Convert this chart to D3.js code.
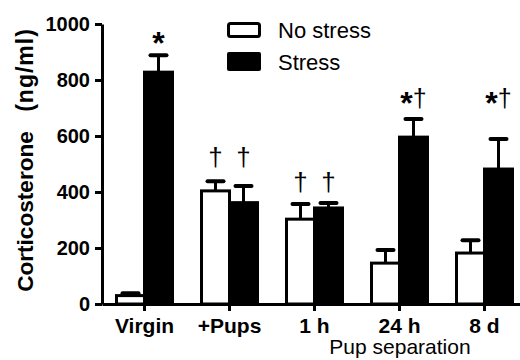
<!DOCTYPE html>
<html>
<head>
<meta charset="utf-8">
<script src="https://cdn.jsdelivr.net/npm/d3@7"></script>
<style>
  html, body { margin: 0; padding: 0; background: #fff; }
  svg { display: block; }
  text { font-family: "Liberation Sans", Arial, Helvetica, sans-serif; fill: #000; }
</style>
</head>
<body>
<svg id="chart" width="520" height="360"></svg>
<script>
// Plasma corticosterone by group, mean ± SEM
const categories = ["Virgin", "+Pups", "1 h", "24 h", "8 d"];
const seriesNames = ["No stress", "Stress"];
const noStress    = [30, 404, 303, 146, 182];
const noStressErr = [8, 34, 54, 47, 46];
const stress      = [828, 362, 343, 596, 482];
const stressErr   = [60, 59, 18, 65, 107];
const yTicks = [0, 200, 400, 600, 800, 1000];

// Significance marks per group: [no stress, stress], and the level they sit at
const noteText  = [["", "*"], ["\u2020", "\u2020"], ["\u2020", "\u2020"], ["", "*\u2020"], ["", "*\u2020"]];
const noteLevel = [893, 493, 405, 703, 703];

const svg = d3.select("#chart");

const y = d3.scaleLinear().domain([0, 1000]).range([304, 24]);
const x = d3.scaleBand().domain(categories).range([102, 527]);
const xs = d3.scaleBand().domain([0, 1]).range([-28, 28]);
const cx = c => x(c) + x.bandwidth() / 2;

const rows = categories.map((c, i) => ({
  cat: c,
  bars: [
    { s: 0, v: noStress[i], e: noStressErr[i], note: noteText[i][0] },
    { s: 1, v: stress[i], e: stressErr[i], note: noteText[i][1] }
  ]
}));

// Bars
const g = svg.append("g");
rows.forEach(r => {
  r.bars.forEach(b => {
    const bx = cx(r.cat) + xs(b.s);
    g.append("rect")
      .attr("x", bx)
      .attr("y", y(b.v))
      .attr("width", xs.bandwidth())
      .attr("height", y(0) - y(b.v))
      .attr("fill", b.s === 0 ? "#fff" : "#000")
      .attr("stroke", "#000")
      .attr("stroke-width", 3);
  });
});

// Error bars (upper whisker only)
rows.forEach(r => {
  r.bars.forEach(b => {
    const mx = cx(r.cat) + xs(b.s) + xs.bandwidth() / 2;
    g.append("line")
      .attr("x1", mx).attr("x2", mx)
      .attr("y1", y(b.v)).attr("y2", y(b.v + b.e))
      .attr("stroke", "#000").attr("stroke-width", 3);
    g.append("line")
      .attr("x1", mx - 8).attr("x2", mx + 8)
      .attr("y1", y(b.v + b.e)).attr("y2", y(b.v + b.e))
      .attr("stroke", "#000").attr("stroke-width", 4)
      .attr("stroke-linecap", "round");
  });
});

// Significance marks
rows.forEach((r, i) => {
  r.bars.forEach(b => {
    if (!b.note) return;
    const mx = cx(r.cat) + xs(b.s) + xs.bandwidth() / 2;
    const t = g.append("text")
      .attr("x", mx)
      .attr("y", y(noteLevel[i]))
      .attr("text-anchor", "middle");
    if (b.note === "*") {
      t.append("tspan").attr("font-size", 32).attr("font-weight", "bold").text("*");
    } else if (b.note === "\u2020") {
      t.append("tspan").attr("font-size", 26).text("\u2020");
    } else {
      t.append("tspan").attr("font-size", 32).attr("font-weight", "bold")
        .attr("dy", "0.22em").text("*");
      t.append("tspan").attr("font-size", 25).attr("dy", "-0.28em").text("\u2020");
    }
  });
});

// Y axis
const yAxis = svg.append("g")
  .attr("transform", "translate(102,0)")
  .call(d3.axisLeft(y).tickValues(yTicks).tickFormat(d3.format("d"))
    .tickSize(7).tickSizeOuter(0).tickPadding(5));
yAxis.select(".domain").attr("stroke-width", 3);
yAxis.selectAll(".tick line").attr("stroke-width", 3);
yAxis.selectAll(".tick text")
  .attr("font-family", "'Liberation Sans', Arial, sans-serif")
  .attr("font-size", 20).attr("font-weight", "bold");

// X axis
const xAxis = svg.append("g")
  .attr("transform", "translate(0,304)")
  .call(d3.axisBottom(x).tickSize(7).tickSizeOuter(0).tickPadding(7));
xAxis.select(".domain").attr("stroke-width", 3);
xAxis.selectAll(".tick line").attr("stroke-width", 3);
xAxis.selectAll(".tick text")
  .attr("font-family", "'Liberation Sans', Arial, sans-serif")
  .attr("font-size", 21).attr("font-weight", "bold");

// Axis titles
svg.append("text")
  .attr("transform", "translate(33,211.5) rotate(-90)")
  .attr("text-anchor", "middle")
  .attr("font-size", 22.6).attr("font-weight", "bold")
  .text("Corticosterone");
svg.append("text")
  .attr("transform", "translate(33,70) rotate(-90)")
  .attr("text-anchor", "middle")
  .attr("font-size", 23).attr("font-weight", "bold")
  .attr("letter-spacing", 1)
  .text("(ng/ml)");
svg.append("text")
  .attr("x", 400).attr("y", 354)
  .attr("text-anchor", "middle")
  .attr("font-size", 21)
  .text("Pup separation");

// Legend
const legend = svg.append("g");
legend.append("rect")
  .attr("x", 228.5).attr("y", 23.5).attr("width", 31).attr("height", 13)
  .attr("rx", 2).attr("fill", "#fff").attr("stroke", "#000").attr("stroke-width", 3);
legend.append("rect")
  .attr("x", 227).attr("y", 52).attr("width", 34).attr("height", 19)
  .attr("rx", 2).attr("fill", "#000");
legend.selectAll("text.lg")
  .data(seriesNames)
  .join("text")
  .attr("class", "lg")
  .attr("x", 278)
  .attr("y", (d, i) => i === 0 ? 38 : 69.5)
  .attr("font-size", 22)
  .text(d => d);
</script>
</body>
</html>
